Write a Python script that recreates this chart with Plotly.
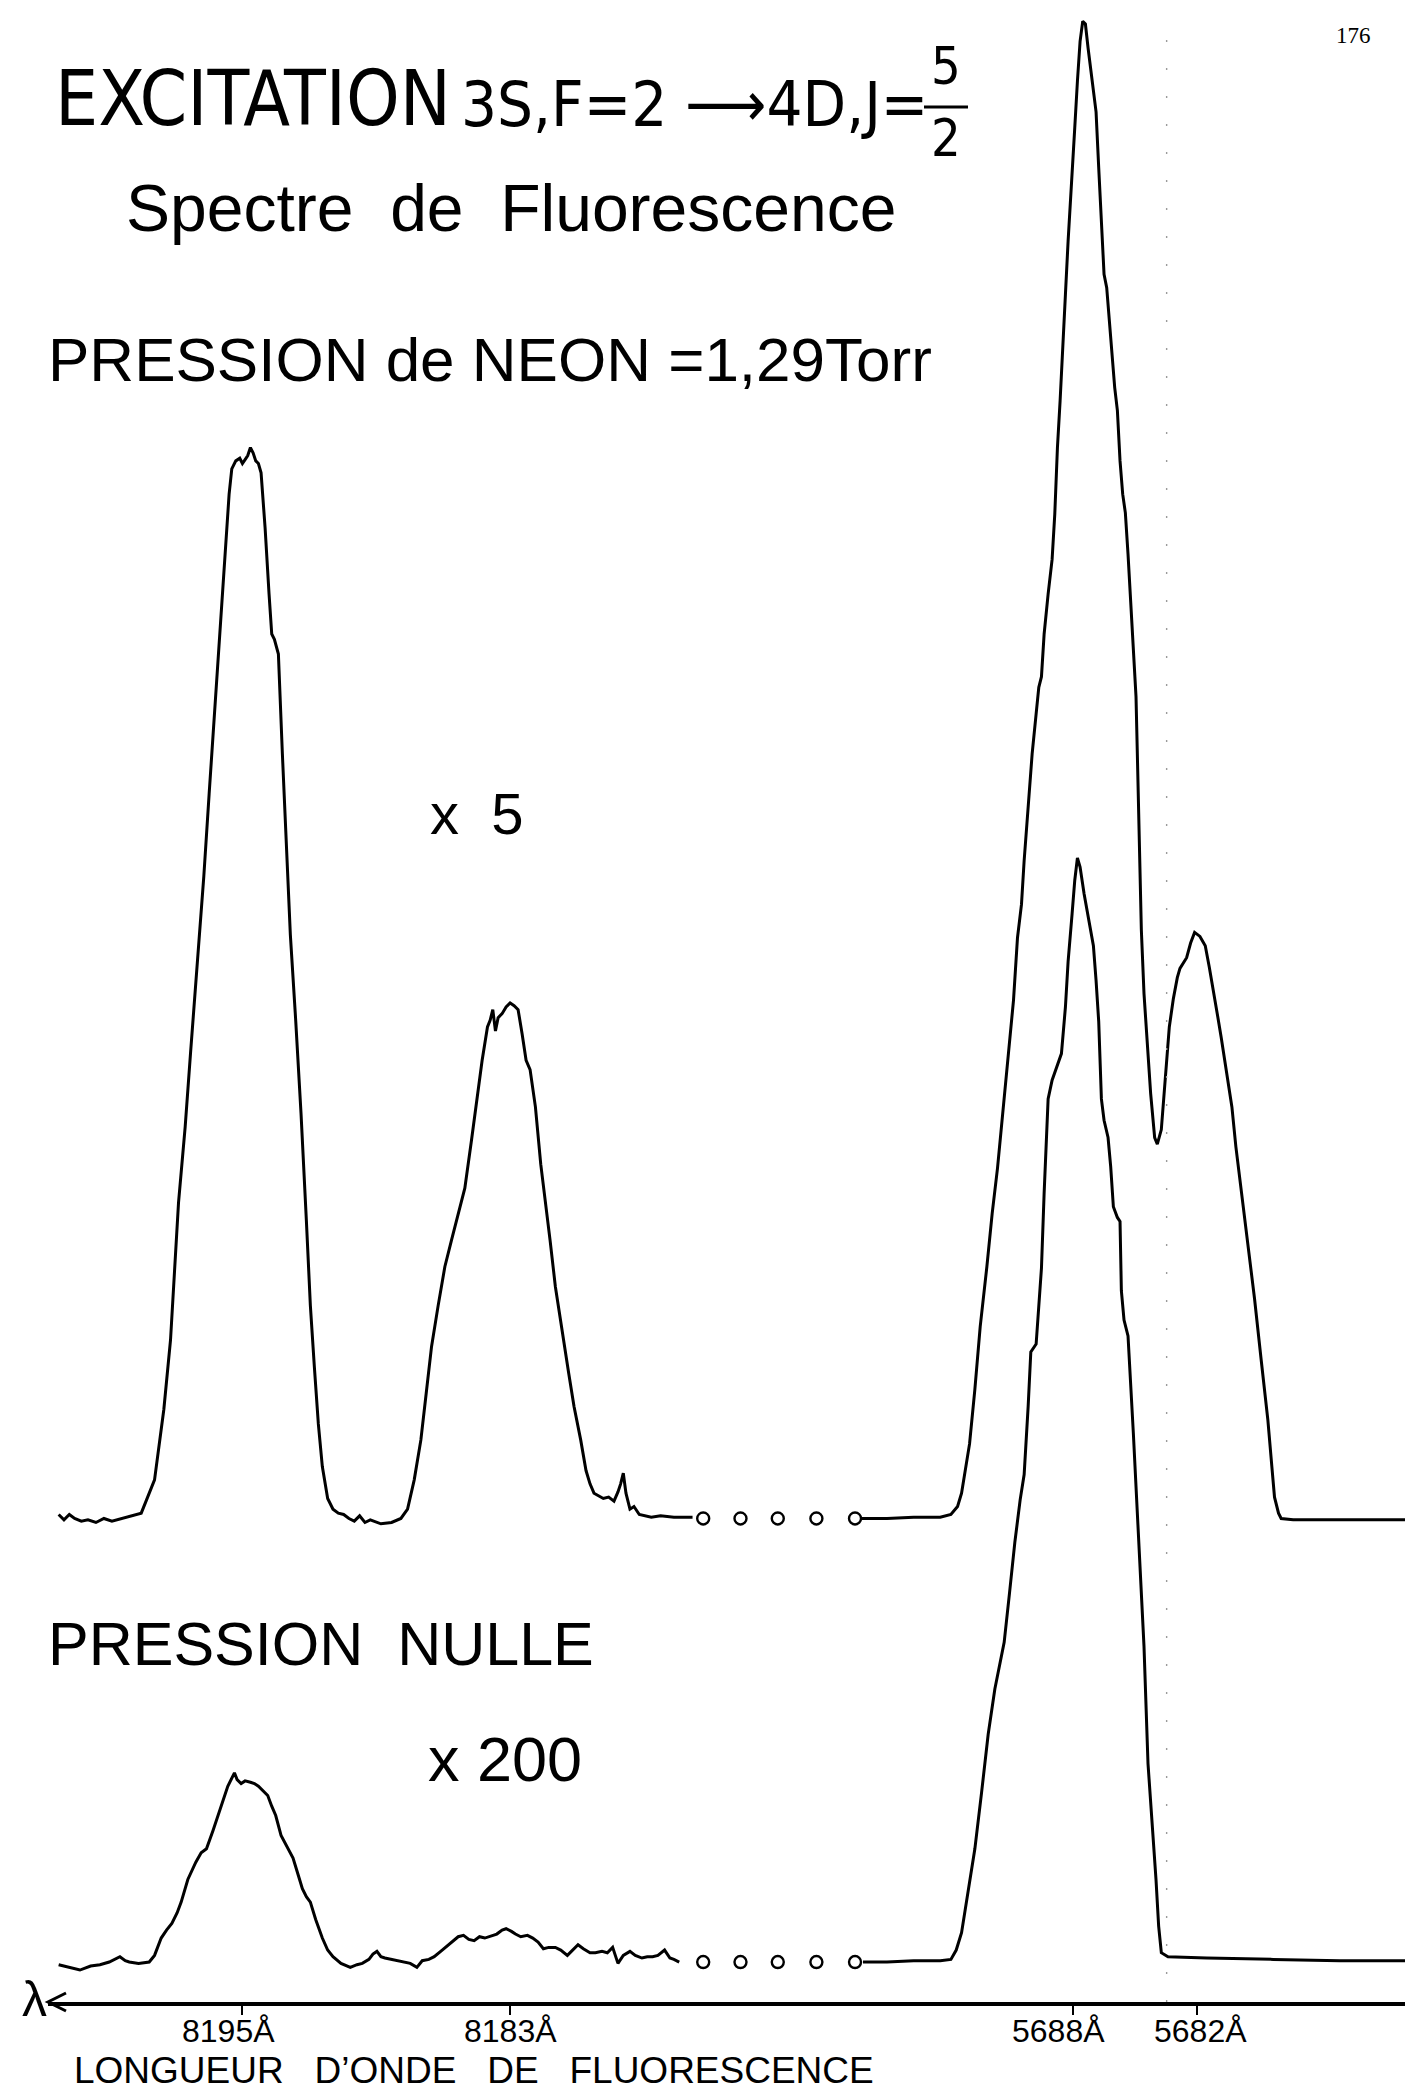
import plotly.graph_objects as go

# ---------------- data (scan position along the recorder chart, signal in chart units) -------------
# Upper trace: PRESSION de NEON = 1,29 Torr   (signal above its own baseline)
up_left_x = [38, 42, 46, 50, 55, 60, 66, 72, 78, 85, 90, 95, 100, 104, 110, 117, 122, 128, 133, 137, 142, 147,
             151, 155, 159, 163, 166, 168, 171, 174, 176, 178, 180, 182, 184, 186, 188, 190, 193, 196, 198, 200,
             203, 206, 210, 212, 216, 220, 224, 227, 230, 233, 236, 240, 244, 248, 252, 256, 260, 264, 268, 272,
             280, 288, 295, 300, 305, 310, 314, 318, 323, 328, 333, 338, 343, 348, 352, 356, 360, 362, 364, 366,
             368, 371, 374, 377, 380, 383, 386, 389, 392, 396, 400, 403, 407, 411, 417, 421, 425, 430, 434, 437,
             440, 443, 447, 451, 455, 458, 460, 462, 464, 467, 470, 474, 478, 483, 490, 500, 507, 514]
up_left_s = [3, -1, 3, 0, -2, -1, -3, 0, -2, 0, 1, 3, 4, 14, 29, 82, 134, 237, 294, 349, 414, 482,
             544, 604, 664, 726, 769, 788, 794, 796, 792, 795, 798, 804, 800, 794, 792, 785, 744, 694, 664, 660,
             649, 574, 484, 438, 374, 304, 224, 160, 114, 71, 39, 15, 7, 4, 3, 0, -2, 2, -3, -1,
             -4, -3, 0, 7, 29, 59, 94, 129, 160, 189, 209, 229, 248, 284, 315, 344, 369, 374, 382, 366,
             376, 379, 384, 387, 385, 382, 364, 344, 337, 309, 266, 243, 209, 174, 137, 109, 84, 59, 36, 26,
             19, 17, 15, 16, 13, 20, 26, 34, 19, 7, 9, 3, 2, 1, 2, 1, 1, 1]

up_right_x = [640, 660, 680, 700, 708, 713, 716, 719, 722, 726, 730, 735, 739, 743, 747, 751, 755, 758, 761,
              763, 766, 769, 772, 774, 776, 778, 781, 784, 786, 788, 790, 792, 794, 796, 799, 801, 803, 805,
              807, 809, 811, 813, 815, 817, 819, 821, 823, 825, 827, 829, 831, 833, 835, 837, 839, 841, 843,
              845, 847, 848, 849, 851, 853, 856, 858, 861, 863, 866, 868, 870, 872, 875, 878, 880, 885, 888,
              891, 895, 899, 902, 905, 908, 911, 915, 919, 922, 926, 931, 936, 941, 946, 949, 951, 954, 956,
              965, 1000, 1030, 1061]
up_right_s = [0, 0, 1, 1, 3, 9, 19, 36, 56, 97, 144, 189, 229, 263, 304, 344, 389, 436, 461,
              494, 533, 574, 604, 624, 632, 664, 694, 720, 754, 804, 839, 875, 919, 959, 1005, 1044, 1079, 1109,
              1124, 1122, 1104, 1089, 1072, 1056, 1014, 969, 934, 924, 899, 872, 849, 832, 794, 769, 755, 724, 689,
              654, 617, 574, 533, 442, 394, 349, 319, 286, 281, 292, 319, 349, 369, 390, 406, 413, 421, 432,
              440, 437, 430, 414, 395, 379, 361, 334, 309, 279, 246, 206, 165, 119, 74, 39, 16, 4, 0,
              -1, -1, -1, -1]

# Lower trace: PRESSION NULLE
lo_left_x = [38, 46, 54, 62, 69, 76, 84, 88, 91, 98, 106, 110, 115, 119, 123, 127, 130, 135, 141, 145, 149,
             154, 160, 165, 170, 172, 175, 178, 182, 185, 188, 191, 195, 198, 201, 205, 209, 214, 218, 221, 224,
             227, 231, 236, 240, 244, 250, 257, 262, 266, 271, 274, 277, 280, 283, 288, 293, 298, 302, 307, 311,
             316, 320, 326, 333, 338, 342, 346, 350, 354, 358, 363, 367, 371, 374, 378, 381, 385, 390, 394, 398,
             402, 406, 411, 415, 420, 424, 428, 432, 437, 441, 446, 450, 454, 456, 458, 462, 467, 471, 476, 480,
             484, 488, 493, 497, 500, 504]
lo_left_s = [-2, -4, -6, -3, -2, 0, 4, 1, 0, -1, 0, 5, 18, 24, 29, 37, 45, 62, 75, 82, 85,
             99, 118, 132, 142, 137, 134, 136, 135, 134, 132, 129, 125, 117, 110, 95, 87, 78, 65, 55, 49,
             45, 32, 18, 9, 4, -1, -4, -2, -1, 2, 6, 8, 4, 3, 2, 1, 0, -1, -4, 1,
             2, 4, 9, 15, 19, 20, 17, 16, 19, 18, 20, 21, 24, 25, 23, 21, 19, 20, 18, 15,
             10, 11, 11, 9, 5, 9, 13, 10, 7, 7, 8, 7, 11, 5, -1, 5, 8, 5, 3, 4,
             4, 5, 9, 3, 2, 0]

lo_right_x = [642, 660, 680, 700, 708, 712, 716, 720, 726, 731, 736, 741, 748, 752, 756, 760, 763, 766, 768,
              772, 774, 776, 778, 781, 784, 787, 791, 794, 796, 799, 801, 803, 805, 808, 811, 815, 817, 819,
              821, 823, 826, 828, 830, 833, 835, 836, 838, 841, 845, 849, 853, 856, 859, 862, 864, 866, 871,
              900, 950, 1000, 1061]
lo_right_s = [0, 0, 1, 1, 2, 9, 22, 47, 85, 127, 171, 205, 240, 277, 315, 347, 366, 417, 458,
              464, 492, 521, 577, 648, 662, 671, 682, 717, 751, 787, 812, 829, 822, 802, 786, 763, 737, 706,
              648, 632, 619, 597, 567, 559, 556, 504, 482, 470, 397, 320, 237, 149, 107, 62, 27, 7, 4,
              3, 2, 1, 1]

gap_x = [522, 550, 578, 607, 636]          # "o o o o o" break marks on each trace
gap_s = [0, 0, 0, 0, 0]

tick_vals = [176, 377, 800, 893]
tick_text = ["8195Å", "8183Å", "5688Å", "5682Å"]
guide_x = 870                               # faint dotted vertical guide

UPPER_OFFSET = 333                          # vertical offset of the upper record

# ---------------- figure ----------------
W, H = 1413, 2088
ML, MB = 40, 94
PW, PH = W - ML, H - MB


def P(xpx, ypx):
    """page pixel -> paper coords"""
    return (xpx - ML) / PW, (PH - ypx) / PH


fig = go.Figure()
line = dict(color="black", width=3)

for xs, ss, off in [(up_left_x, up_left_s, UPPER_OFFSET), (up_right_x, up_right_s, UPPER_OFFSET),
                    (lo_left_x, lo_left_s, 0), (lo_right_x, lo_right_s, 0)]:
    fig.add_trace(go.Scatter(x=xs, y=[s + off for s in ss], mode="lines", line=line,
                             hoverinfo="skip", showlegend=False))

for off in (UPPER_OFFSET, 0):
    fig.add_trace(go.Scatter(x=gap_x, y=[s + off for s in gap_s], mode="markers",
                             marker=dict(symbol="circle-open", size=12, color="black",
                                         line=dict(width=2.4, color="black")),
                             hoverinfo="skip", showlegend=False))

SANS = "Liberation Sans, Arial, sans-serif"
COND = "DejaVu Sans Condensed, Liberation Sans Narrow, Liberation Sans, sans-serif"


def txt(s, xpx, ypx, size, family=SANS, xanchor="left"):
    x, y = P(xpx, ypx)
    fig.add_annotation(text=s, x=x, y=y, xref="paper", yref="paper", showarrow=False,
                       xanchor=xanchor, yanchor="middle", font=dict(family=family, size=size, color="black"))


txt("176", 1345, 28, 23, family="Liberation Serif, serif", xanchor="center")
txt("EXCITATION", 45, 90, 76, family=COND)
txt("3S,F=2 ⟶4D,J=", 451, 96, 63, family=COND)
txt("5", 938, 58, 52, family=COND, xanchor="center")
txt("2", 938, 130, 52, family=COND, xanchor="center")
txt("Spectre  de  Fluorescence", 116, 200, 66)
txt("PRESSION de NEON =1,29Torr", 38, 351, 62)
txt("x  5", 420, 806, 58)
txt("PRESSION  NULLE", 38, 1636, 61)
txt("x 200", 418, 1751, 63)
txt("λ", 26, 1991, 50, xanchor="center")
txt("LONGUEUR   D’ONDE   DE   FLUORESCENCE", 64, 2062, 37)

# wavelength labels under the ticks
label_shift = [-14, 0, -15, 3]
ly = P(0, 2023)[1]
for v, t, sh in zip(tick_vals, tick_text, label_shift):
    fig.add_annotation(text=t, x=v, y=ly, xref="x", yref="paper", showarrow=False, xshift=sh,
                       xanchor="center", yanchor="middle", font=dict(family=SANS, size=32, color="black"))

# fraction bar of J = 5/2
bx0, by = P(916, 99)
bx1, _ = P(960, 99)
fig.add_shape(type="line", xref="paper", yref="paper", x0=bx0, x1=bx1, y0=by, y1=by,
              line=dict(color="black", width=3))

# arrow head of the wavelength axis
ax0, ay0 = P(58, 1985)
ax1, ay1 = P(40, 1994)
ax2, ay2 = P(58, 2003)
fig.add_shape(type="path", xref="paper", yref="paper",
              path=f"M {ax0},{ay0} L {ax1},{ay1} L {ax2},{ay2}",
              line=dict(color="black", width=3))

# faint dotted vertical guide
fig.add_shape(type="line", xref="x", yref="paper", x0=guide_x, x1=guide_x, y0=0, y1=P(0, 15)[1],
              line=dict(color="#9a9a9a", width=1.4, dash="2px,26px"))

fig.update_layout(
    width=W, height=H,
    margin=dict(l=ML, r=0, t=0, b=MB, pad=0),
    paper_bgcolor="white", plot_bgcolor="white",
    xaxis=dict(range=[30, 1061], showgrid=False, zeroline=False, showline=True, linewidth=4,
               linecolor="black", ticks="outside", ticklen=9, tickwidth=2, tickcolor="black",
               tickvals=tick_vals, showticklabels=False),
    yaxis=dict(range=[-30, 1467], visible=False),
)

fig.write_html("out.html")
